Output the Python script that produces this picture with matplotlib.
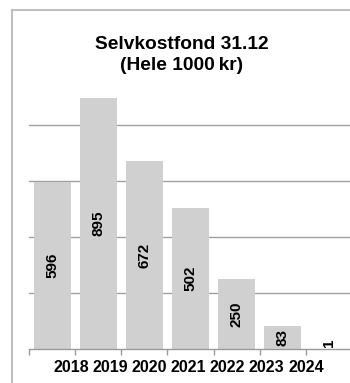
import matplotlib
matplotlib.use("Agg")
import matplotlib.pyplot as plt
from matplotlib.patches import Rectangle
import numpy as np

# data
years = ["2018", "2019", "2020", "2021", "2022", "2023", "2024"]
fund = [596, 895, 672, 502, 250, 83, 1]
grid_vals = [200, 400, 600, 800]

title = "Selvkostfond 31.12\n(Hele 1000\u2009kr)"

plt.rcParams['font.family'] = ['Liberation Sans', 'DejaVu Sans']

W, H = 350, 383
fig = plt.figure(figsize=(W / 100, H / 100), dpi=100)

# chart border (cropped on right and bottom)
fig.patches.append(Rectangle((12 / W, -0.05), 1.0, 1 - 10 / H + 0.05,
                             transform=fig.transFigure, fill=False,
                             edgecolor='#bfbfbf', linewidth=1.5))

# plot area in pixel terms
left, right, bottom, top = 29, 352, 349, 69
ax = fig.add_axes([left / W, (H - bottom) / H, (right - left) / W, (bottom - top) / H])
ax.patch.set_alpha(0)

x = np.arange(len(years))
ax.bar(x, fund, width=0.8, color='#d0d0d0', zorder=2)

for xi, v in zip(x, fund):
    ax.text(xi, max(v / 2, 22), str(v), rotation=90, ha='center', va='center',
            fontsize=11, fontweight='bold', color='black', zorder=3)

ax.set_xlim(-0.5, len(years) - 0.5)
ax.set_ylim(0, 1000)

ax.set_yticks(grid_vals)
ax.yaxis.grid(True, color='#a0a0a0', linewidth=1.0, zorder=1)
ax.tick_params(axis='y', length=0, labelleft=False)

for s in ['top', 'right', 'left']:
    ax.spines[s].set_visible(False)
ax.spines['bottom'].set_color('#9a9a9a')
ax.spines['bottom'].set_linewidth(1.0)

# tick marks at category boundaries, labels packed as in the original
ax.set_xticks(np.arange(len(years) + 1) - 0.5, minor=True)
ax.tick_params(axis='x', which='minor', length=4, width=1.0, color='#9a9a9a')
label_pos = 0.413 + 0.848 * np.arange(len(years))
ax.set_xticks(label_pos)
ax.set_xticklabels(years, fontsize=11.5, fontweight='bold')
ax.tick_params(axis='x', which='major', length=0, pad=8)

fig.text(182 / W, 1 - 55 / H, title, ha='center', va='center', fontsize=13.8,
         fontweight='bold', linespacing=1.35)

fig.savefig("out.png", dpi=100)
